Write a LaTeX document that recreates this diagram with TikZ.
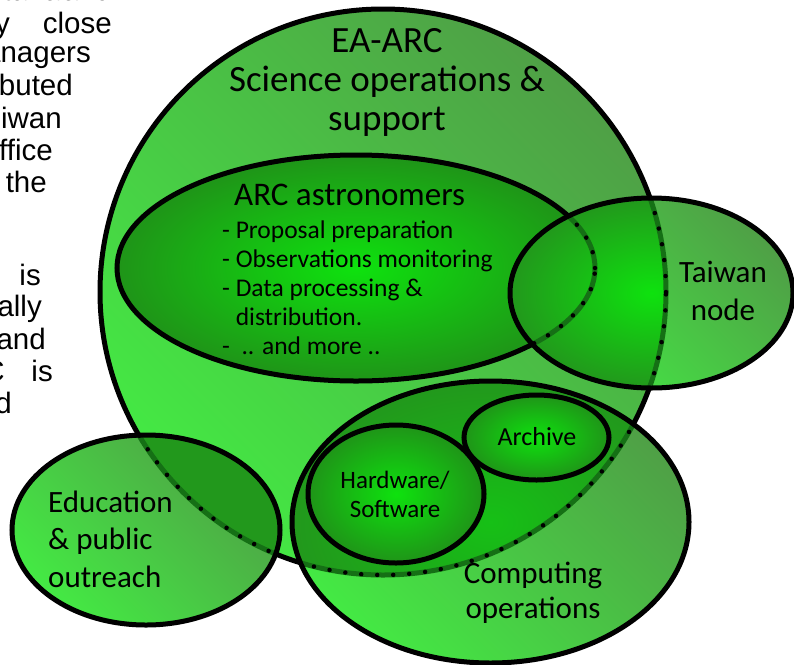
\documentclass[tikz,border=0pt]{standalone}
\usepackage{fontspec}
\setmainfont{Carlito}
\newfontfamily\pagefont{Liberation Sans}
\usetikzlibrary{positioning}

\definecolor{glight}{HTML}{44E944}
\definecolor{gdull}{HTML}{4FA046}
\definecolor{gvivid}{HTML}{0EE20E}
\definecolor{gdeep}{HTML}{1F9418}
\definecolor{gmid}{HTML}{16C016}
\definecolor{gdark}{HTML}{22981C}
\definecolor{gseam}{HTML}{157015}

\tikzset{
  rim/.style={draw=black, line width=5pt},
  seam/.style={draw=gseam, line width=5pt},
  dotrim/.style={draw=black, line width=4.5pt, line cap=round, dash pattern=on 0pt off 16pt},
  outer fill/.style={bottom color=glight, top color=gdull, shading angle=-45},
  inner fill/.style={inner color=gvivid, outer color=gdeep},
  title/.style={font=\fontsize{37}{39}\selectfont, align=center, anchor=base, inner sep=0pt},
  head/.style={font=\fontsize{33}{36}\selectfont, anchor=base west, inner sep=0pt},
  items/.style={font=\fontsize{25.5}{29}\selectfont, align=left, anchor=base west, inner sep=0pt},
  venntext/.style={font=\fontsize{31}{#1}\selectfont, align=center, anchor=base, inner sep=0pt},
  venntext/.default=35,
  smalltext/.style={font=\fontsize{25}{29}\selectfont, align=center, anchor=base, inner sep=0pt},
  para/.style={font=\pagefont\fontsize{29.5}{33}\selectfont, anchor=base east, inner sep=0pt},
}

% outlines of the sets, in pixel units
\newcommand\eaarcpath{(383,292) circle [radius=283pt]}
\newcommand\arcpath{(356,268) ellipse [x radius=239pt, y radius=113pt]}
\newcommand\twpath{(651.5,293) ellipse [x radius=141.5pt, y radius=95pt]}
\newcommand\comppath{(490.5,522) ellipse [x radius=198.5pt, y radius=141pt]}
\newcommand\hwpath{(396,494) ellipse [x radius=88pt, y radius=69pt]}
\newcommand\archpath{(536.5,437.5) ellipse [x radius=72.5pt, y radius=42.5pt]}
\newcommand\edupath{(146,530) ellipse [x radius=134pt, y radius=95pt]}

\begin{document}
\begin{tikzpicture}[x=1pt, y=-1pt]
  \useasboundingbox (0,0) rectangle (794,664);
  \clip (0,0) rectangle (794,664);

  % running text of the page, cut at the left margin
  \foreach \x/\y/\t [count=\i] in {69/0/itana., 112/0/and, 10/33/y, 112/33/close,
      91/62/anagers, 73/95/buted, 62/128/iwan, 53/160/ffice, 47/192/the,
      41/285/is, 42/316/ally, 46/349/and, 5/381/C, 53/381/is, 12/413/d}
    \node[para] (frag\i) at (\x,\y) {\t};

  % EA-ARC and the astronomers inside it
  \shade[outer fill] \eaarcpath;
  \draw[rim] \eaarcpath;
  \shade[inner fill] \arcpath;
  \draw[rim] \arcpath;

  % Taiwan node
  \shade[outer fill] \twpath;
  \begin{scope}
    \clip \eaarcpath;
    \shade[inner color=gvivid, outer color=gdark] \twpath;
  \end{scope}
  \begin{scope}
    \clip \twpath;
    \draw[seam] \eaarcpath; \draw[dotrim] \eaarcpath;
    \draw[seam] \arcpath;   \draw[dotrim] \arcpath;
  \end{scope}
  \draw[rim] \twpath;

  % computing operations
  \shade[outer fill] \comppath;
  \begin{scope}
    \clip \eaarcpath;
    \shade[inner color=gmid, outer color=gdark] \comppath;
  \end{scope}
  \begin{scope}
    \clip \comppath;
    \draw[seam] \eaarcpath; \draw[dotrim] \eaarcpath;
  \end{scope}
  \draw[rim] \comppath;
  \shade[inner fill] \hwpath;
  \draw[rim] \hwpath;
  \shade[inner fill] \archpath;
  \draw[rim] \archpath;

  % education and outreach
  \shade[outer fill] \edupath;
  \begin{scope}
    \clip \eaarcpath;
    \fill[gdark] \edupath;
  \end{scope}
  \begin{scope}
    \clip \edupath;
    \draw[seam] \eaarcpath; \draw[dotrim] \eaarcpath;
  \end{scope}
  \draw[rim] \edupath;

  % labels, placed by the baseline of their last line
  \node[title] (eaarc) at (387,130) {EA-ARC\\Science operations \&\\support};
  \node[head] (archead) at (234,205) {ARC astronomers};
  \node[items] (arcitems) at (222,354) {- Proposal preparation\\- Observations monitoring\\- Data processing \&\\\phantom{- }distribution.\\-\ \ .. and more ..};
  \node[venntext=38] (taiwan) at (723,320) {Taiwan\\node};
  \node[venntext] (computing) at (533,618) {Computing\\operations};
  \node[smalltext] (hwsw) at (395,517) {Hardware/\\Software};
  \node[smalltext, font=\fontsize{26}{29}\selectfont] (archive) at (537,445) {Archive};
  \node[venntext=37.5, align=left, anchor=base west] (outreach) at (48,587) {Education\\\& public\\outreach};
\end{tikzpicture}
\end{document}
